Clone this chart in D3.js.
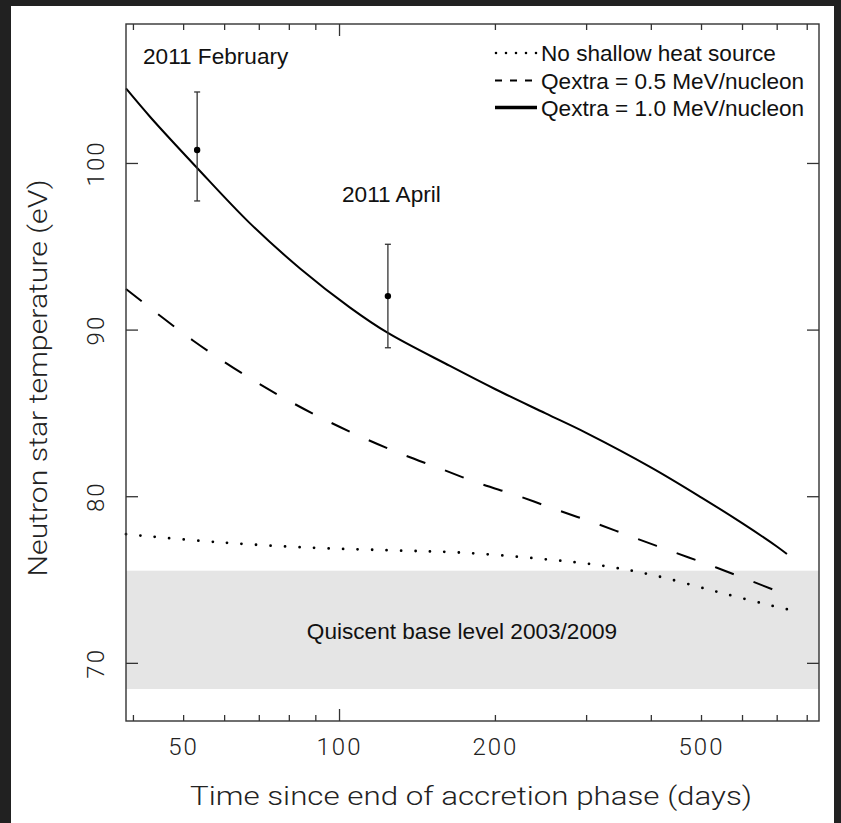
<!DOCTYPE html>
<html>
<head>
<meta charset="utf-8">
<script src="https://cdn.jsdelivr.net/npm/d3@7"></script>
<style>
  html, body { margin: 0; padding: 0; background: #212121; overflow: hidden; }
  svg { display: block; }
</style>
</head>
<body>
<svg id="chart" width="841" height="823"></svg>
<script>
// Crust cooling models (days since end of accretion, temperature in eV)
const noHeatDays = [38.7, 57.6, 88, 126.6, 173, 243, 318.6, 403.6, 536.6, 696, 731];
const noHeatTemp = [77.75, 77.28, 76.94, 76.78, 76.64, 76.28, 75.88, 75.29, 74.29, 73.4, 73.25];

const q05Days = [38.7, 52.2, 66.3, 78.1, 92.2, 109.3, 129.9, 154.6, 184.4, 220.6, 263.6, 314.4, 375.4, 446.9, 533.9, 731];
const q05Temp = [92.47, 89.36, 87.22, 85.92, 84.73, 83.64, 82.64, 81.75, 80.85, 80.06, 79.2, 78.37, 77.48, 76.62, 75.75, 74.1];

const q10Days = [38.7, 43.1, 53.1, 67.1, 83.9, 104.8, 124, 163.4, 200, 250, 300, 400, 500, 600, 700, 731];
const q10Temp = [104.5, 102.79, 99.73, 96.42, 93.7, 91.35, 89.83, 87.85, 86.45, 85.0, 83.82, 81.75, 79.95, 78.4, 77.0, 76.56];

// Chandra observations with 1-sigma ranges
const obsLabels = ["2011 February", "2011 April"];
const obsDays = [53.1, 124.0];
const obsTemp = [100.81, 92.04];
const obsLow = [97.75, 88.94];
const obsHigh = [104.29, 95.15];

// Quiescent level measured before the outburst
const baseRange = [68.46, 75.56];
const baseLabel = "Quiscent base level 2003/2009";

// Axes
const xDomain = [38.7, 843];
const yDomain = [66.54, 108.37];
const xMinorTicks = [40, 50, 60, 70, 80, 90, 200, 300, 400, 500, 600, 700, 800];
const xMajorTicks = [100];
const xTickLabels = [50, 100, 200, 500];
const yTicks = [70, 80, 90, 100];

const legendLabels = ["No shallow heat source", "Qextra = 0.5 MeV/nucleon", "Qextra = 1.0 MeV/nucleon"];

const svg = d3.select("#chart");
const W = 841, H = 823;
const plot = { left: 126, right: 819, top: 24, bottom: 721 };

// page frame
svg.append("rect").attr("x", 0).attr("y", 0).attr("width", W).attr("height", H).attr("fill", "#212121");
svg.append("rect").attr("x", 11).attr("y", 6).attr("width", 823).attr("height", H - 6).attr("fill", "#ffffff");

const x = d3.scaleLog().domain(xDomain).range([plot.left, plot.right]);
const y = d3.scaleLinear().domain(yDomain).range([plot.bottom, plot.top]);

const axisFont = "Roboto, 'DejaVu Sans', sans-serif";
const textFont = "'Liberation Sans', Arial, Helvetica, sans-serif";
const textSize = 22.6;

// quiescent band
svg.append("rect")
  .attr("x", plot.left).attr("width", plot.right - plot.left)
  .attr("y", y(baseRange[1])).attr("height", y(baseRange[0]) - y(baseRange[1]))
  .attr("fill", "#e5e5e5");

svg.append("text")
  .attr("x", 462).attr("y", 639)
  .attr("text-anchor", "middle")
  .attr("font-family", textFont).attr("font-size", textSize)
  .attr("fill", "#111")
  .text(baseLabel);

// model curves
const line = d3.line()
  .x(d => x(d[0]))
  .y(d => y(d[1]))
  .curve(d3.curveCatmullRom.alpha(0.5));

const zip = (a, b) => a.map((v, i) => [v, b[i]]);

svg.append("path")
  .datum(zip(noHeatDays, noHeatTemp))
  .attr("d", line)
  .attr("fill", "none").attr("stroke", "#000")
  .attr("stroke-width", 2.8).attr("stroke-linecap", "round")
  .attr("stroke-dasharray", "0,14.5");

svg.append("path")
  .datum(zip(q05Days, q05Temp))
  .attr("d", line)
  .attr("fill", "none").attr("stroke", "#000")
  .attr("stroke-width", 2).attr("stroke-dasharray", "20,21");

svg.append("path")
  .datum(zip(q10Days, q10Temp))
  .attr("d", line)
  .attr("fill", "none").attr("stroke", "#000")
  .attr("stroke-width", 2);

// observations with error bars
const obs = svg.append("g");
obsDays.forEach((d, i) => {
  const cx = x(d);
  obs.append("line")
    .attr("x1", cx).attr("x2", cx)
    .attr("y1", y(obsLow[i])).attr("y2", y(obsHigh[i]))
    .attr("stroke", "#333").attr("stroke-width", 1.3);
  [obsLow[i], obsHigh[i]].forEach(v => {
    obs.append("line")
      .attr("x1", cx - 3).attr("x2", cx + 3)
      .attr("y1", y(v)).attr("y2", y(v))
      .attr("stroke", "#333").attr("stroke-width", 1.3);
  });
  obs.append("circle").attr("cx", cx).attr("cy", y(obsTemp[i])).attr("r", 3.2).attr("fill", "#000");
});

// observation labels
svg.append("text").attr("x", 143).attr("y", 64)
  .attr("font-family", textFont).attr("font-size", textSize).attr("fill", "#111")
  .text(obsLabels[0]);
svg.append("text").attr("x", 342).attr("y", 202)
  .attr("font-family", textFont).attr("font-size", textSize).attr("fill", "#111")
  .text(obsLabels[1]);

// legend
const legend = svg.append("g");
const legendRows = [53, 80.5, 107.5];
const legendStyles = [
  { w: 2.6, dash: "0,10", cap: "round" },
  { w: 2, dash: "7,8", cap: "butt" },
  { w: 3.6, dash: null, cap: "butt" }
];
legendLabels.forEach((lab, i) => {
  const ly = legendRows[i];
  const s = legendStyles[i];
  const l = legend.append("line")
    .attr("x1", i === 0 ? 496 : 495).attr("x2", 537)
    .attr("y1", ly).attr("y2", ly)
    .attr("stroke", "#000").attr("stroke-width", s.w)
    .attr("stroke-linecap", s.cap);
  if (s.dash) l.attr("stroke-dasharray", s.dash);
  legend.append("text")
    .attr("x", 541).attr("y", ly + 8)
    .attr("font-family", textFont).attr("font-size", textSize).attr("fill", "#111")
    .text(lab);
});

// frame and ticks
const axisColor = "#333";
svg.append("rect")
  .attr("x", plot.left).attr("y", plot.top)
  .attr("width", plot.right - plot.left).attr("height", plot.bottom - plot.top)
  .attr("fill", "none").attr("stroke", axisColor).attr("stroke-width", 1.4);

const ticks = svg.append("g").attr("stroke", axisColor).attr("stroke-width", 1.3);
const tickSets = [{ v: xMinorTicks, len: 6 }, { v: xMajorTicks, len: 12 }];
tickSets.forEach(set => {
  set.v.forEach(t => {
    const tx = x(t);
    ticks.append("line").attr("x1", tx).attr("x2", tx).attr("y1", plot.bottom).attr("y2", plot.bottom - set.len);
    ticks.append("line").attr("x1", tx).attr("x2", tx).attr("y1", plot.top).attr("y2", plot.top + set.len);
  });
});
yTicks.forEach(t => {
  const ty = y(t);
  ticks.append("line").attr("x1", plot.left).attr("x2", plot.left + 12).attr("y1", ty).attr("y2", ty);
  ticks.append("line").attr("x1", plot.right).attr("x2", plot.right - 12).attr("y1", ty).attr("y2", ty);
});

// tick labels
const axisText = "#222";
svg.append("g").selectAll("text").data(xTickLabels).join("text")
  .attr("x", d => x(d)).attr("y", 755)
  .attr("text-anchor", "middle")
  .attr("font-family", axisFont).attr("font-weight", 300).attr("font-size", 24)
  .attr("letter-spacing", 2)
  .attr("fill", axisText)
  .text(d => d);

svg.append("g").selectAll("text").data(yTicks).join("text")
  .attr("transform", d => `translate(104,${y(d)}) rotate(-90)`)
  .attr("text-anchor", "middle")
  .attr("font-family", axisFont).attr("font-weight", 300).attr("font-size", 24)
  .attr("letter-spacing", 2)
  .attr("fill", axisText)
  .text(d => d);

// axis titles
svg.append("text")
  .attr("x", 471).attr("y", 805)
  .attr("text-anchor", "middle")
  .attr("font-family", axisFont).attr("font-weight", 300).attr("font-size", 26)
  .attr("textLength", 562).attr("lengthAdjust", "spacingAndGlyphs")
  .attr("fill", axisText)
  .text("Time since end of accretion phase (days)");

svg.append("text")
  .attr("transform", "translate(47,378) rotate(-90)")
  .attr("text-anchor", "middle")
  .attr("font-family", axisFont).attr("font-weight", 300).attr("font-size", 26)
  .attr("textLength", 397).attr("lengthAdjust", "spacingAndGlyphs")
  .attr("fill", axisText)
  .text("Neutron star temperature (eV)");
</script>
</body>
</html>
